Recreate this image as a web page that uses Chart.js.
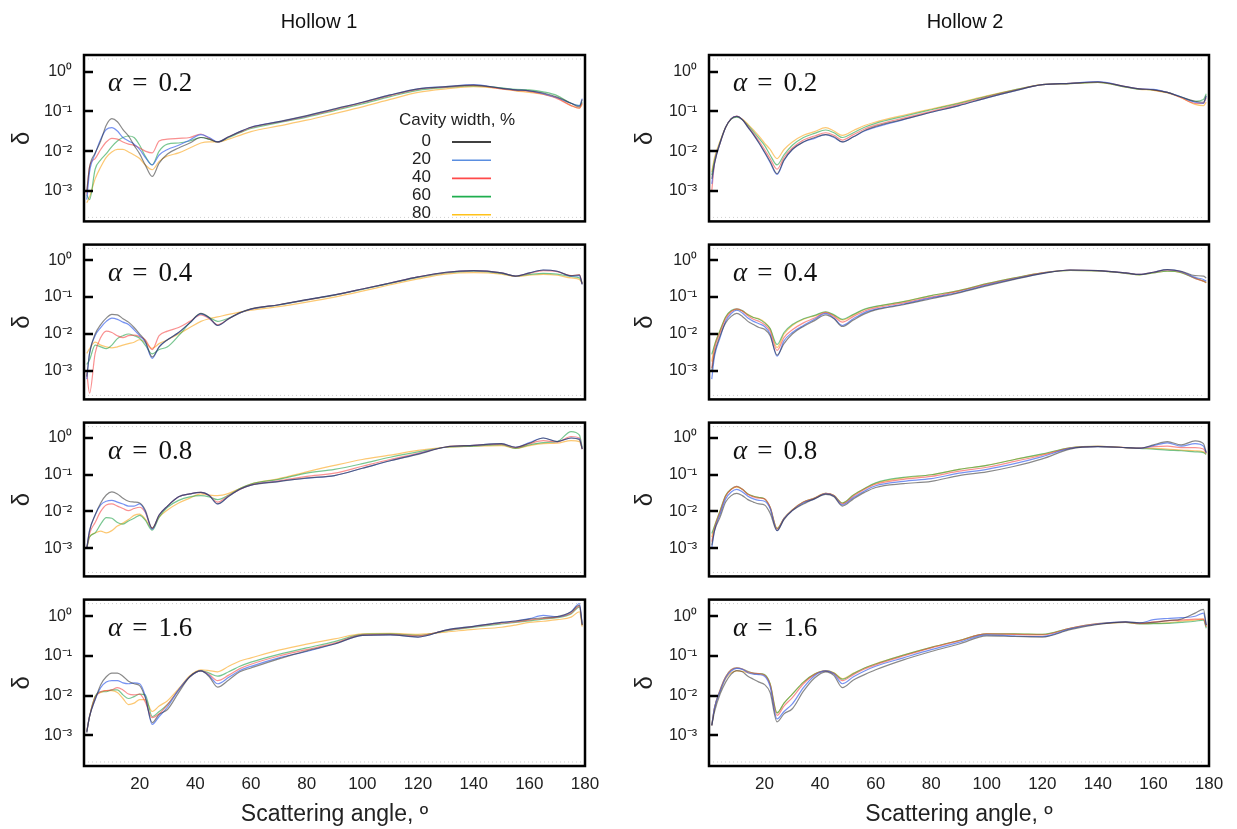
<!DOCTYPE html>
<html>
<head>
<meta charset="utf-8">
<script src="https://cdn.jsdelivr.net/npm/chart.js@4.4.0/dist/chart.umd.min.js"></script>
<style>
  body { margin: 0; background: #fff; }
  #wrap { position: relative; width: 1237px; height: 829px; overflow: hidden; }
  #wrap canvas { position: absolute; }
</style>
</head>
<body>
<div id="wrap"></div>
<script>
// scattering angle (deg) shared by every curve
const angle = [1, 2, 4, 6, 8, 10, 12, 14, 16, 18,
  20, 22, 24.5, 27, 30, 34, 38, 42, 45, 48,
  52, 56, 60, 70, 80, 90, 100, 110, 120, 130,
  140, 150, 155, 160, 165, 170, 175, 178, 179];

const widths = ['0', '20', '40', '60', '80'];
const alphas = ['0.2', '0.4', '0.8', '1.6'];
const yTicks = [1e-3, 1e-2, 1e-1, 1];
const xTicks = [20, 40, 60, 80, 100, 120, 140, 160, 180];

// Hollow 1, alpha = 0.2
const h1_02_w0 = [0.001, 0.004, 0.009, 0.018, 0.045, 0.066, 0.055, 0.035, 0.024, 0.014,
  0.0085, 0.0045, 0.0023, 0.005, 0.0085, 0.012, 0.016, 0.022, 0.02, 0.017,
  0.023, 0.031, 0.04, 0.055, 0.078, 0.116, 0.17, 0.26, 0.37, 0.42,
  0.46, 0.38, 0.35, 0.33, 0.29, 0.23, 0.16, 0.13, 0.2];
const h1_02_w20 = [0.0006, 0.003, 0.0085, 0.02, 0.035, 0.039, 0.032, 0.022, 0.018, 0.015,
  0.011, 0.007, 0.0045, 0.008, 0.011, 0.014, 0.019, 0.026, 0.022, 0.017,
  0.023, 0.031, 0.04, 0.055, 0.077, 0.115, 0.17, 0.26, 0.37, 0.42,
  0.47, 0.38, 0.35, 0.33, 0.28, 0.22, 0.16, 0.14, 0.21];
const h1_02_w40 = [0.0008, 0.004, 0.0065, 0.011, 0.017, 0.021, 0.02, 0.017, 0.015, 0.014,
  0.012, 0.01, 0.009, 0.018, 0.02, 0.021, 0.022, 0.027, 0.021, 0.017,
  0.023, 0.03, 0.039, 0.054, 0.075, 0.11, 0.165, 0.25, 0.36, 0.41,
  0.45, 0.37, 0.34, 0.32, 0.27, 0.21, 0.14, 0.12, 0.16];
const h1_02_w60 = [0.0008, 0.0006, 0.0035, 0.006, 0.0086, 0.013, 0.018, 0.022, 0.024, 0.022,
  0.014, 0.0075, 0.0045, 0.01, 0.015, 0.016, 0.018, 0.022, 0.02, 0.017,
  0.022, 0.029, 0.037, 0.052, 0.072, 0.105, 0.155, 0.235, 0.34, 0.4,
  0.44, 0.39, 0.36, 0.35, 0.31, 0.25, 0.16, 0.14, 0.17];
const h1_02_w80 = [0.0005, 0.0007, 0.002, 0.004, 0.007, 0.0095, 0.011, 0.011, 0.0095, 0.008,
  0.0065, 0.0045, 0.0034, 0.0055, 0.0075, 0.009, 0.012, 0.016, 0.017, 0.017,
  0.02, 0.025, 0.031, 0.043, 0.06, 0.088, 0.13, 0.2, 0.3, 0.37,
  0.42, 0.37, 0.33, 0.3, 0.27, 0.22, 0.14, 0.12, 0.15];

// Hollow 1, alpha = 0.4
const h1_04_w0 = [0.0007, 0.003, 0.01, 0.018, 0.027, 0.034, 0.033, 0.026, 0.021, 0.015,
  0.01, 0.0065, 0.0024, 0.0045, 0.007, 0.011, 0.02, 0.036, 0.028, 0.017,
  0.026, 0.038, 0.048, 0.062, 0.085, 0.115, 0.165, 0.24, 0.35, 0.47,
  0.52, 0.45, 0.37, 0.45, 0.54, 0.5, 0.38, 0.4, 0.22];
const h1_04_w20 = [0.0006, 0.003, 0.009, 0.015, 0.022, 0.027, 0.025, 0.021, 0.018, 0.013,
  0.009, 0.006, 0.0022, 0.0045, 0.007, 0.011, 0.02, 0.035, 0.027, 0.017,
  0.026, 0.037, 0.047, 0.062, 0.085, 0.115, 0.165, 0.24, 0.35, 0.47,
  0.52, 0.45, 0.37, 0.45, 0.54, 0.5, 0.37, 0.38, 0.22];
const h1_04_w40 = [0.0009, 0.00025, 0.003, 0.008, 0.012, 0.011, 0.009, 0.008, 0.009, 0.0093,
  0.0085, 0.007, 0.0038, 0.009, 0.012, 0.015, 0.022, 0.033, 0.026, 0.018,
  0.026, 0.037, 0.047, 0.062, 0.084, 0.114, 0.165, 0.24, 0.35, 0.46,
  0.52, 0.45, 0.37, 0.44, 0.52, 0.49, 0.38, 0.4, 0.23];
const h1_04_w60 = [0.0015, 0.002, 0.005, 0.0045, 0.004, 0.005, 0.0075, 0.009, 0.01, 0.009,
  0.0077, 0.005, 0.0029, 0.0038, 0.0045, 0.009, 0.02, 0.035, 0.028, 0.022,
  0.027, 0.037, 0.047, 0.061, 0.083, 0.113, 0.16, 0.235, 0.34, 0.45,
  0.5, 0.44, 0.37, 0.41, 0.44, 0.42, 0.36, 0.33, 0.24];
const h1_04_w80 = [0.003, 0.004, 0.006, 0.005, 0.0045, 0.0042, 0.0045, 0.005, 0.0055, 0.006,
  0.007, 0.006, 0.0041, 0.0055, 0.007, 0.01, 0.015, 0.022, 0.026, 0.029,
  0.034, 0.039, 0.044, 0.055, 0.073, 0.1, 0.145, 0.215, 0.31, 0.42,
  0.46, 0.42, 0.36, 0.39, 0.41, 0.39, 0.33, 0.3, 0.23];

// Hollow 1, alpha = 0.8
const h1_08_w0 = [0.001, 0.003, 0.008, 0.017, 0.028, 0.034, 0.03, 0.023, 0.019, 0.018,
  0.017, 0.011, 0.0035, 0.008, 0.014, 0.025, 0.03, 0.033, 0.027, 0.016,
  0.026, 0.04, 0.052, 0.065, 0.082, 0.095, 0.15, 0.24, 0.36, 0.57,
  0.63, 0.7, 0.56, 0.72, 1.0, 0.8, 1.0, 0.9, 0.5];
const h1_08_w20 = [0.001, 0.003, 0.008, 0.015, 0.019, 0.02, 0.018, 0.016, 0.014, 0.014,
  0.016, 0.01, 0.0033, 0.008, 0.014, 0.025, 0.03, 0.033, 0.027, 0.016,
  0.026, 0.04, 0.052, 0.066, 0.08, 0.095, 0.15, 0.24, 0.37, 0.57,
  0.63, 0.7, 0.56, 0.75, 1.0, 0.8, 1.0, 0.95, 0.5];
const h1_08_w40 = [0.001, 0.0025, 0.005, 0.01, 0.015, 0.016, 0.014, 0.012, 0.0105, 0.012,
  0.013, 0.0095, 0.0034, 0.008, 0.014, 0.025, 0.03, 0.033, 0.027, 0.018,
  0.027, 0.04, 0.053, 0.068, 0.09, 0.11, 0.17, 0.26, 0.38, 0.57,
  0.63, 0.68, 0.55, 0.7, 0.85, 0.78, 1.1, 1.0, 0.5];
const h1_08_w60 = [0.001, 0.002, 0.0026, 0.0045, 0.0068, 0.0065, 0.005, 0.0045, 0.0055, 0.0065,
  0.0078, 0.0058, 0.0031, 0.007, 0.013, 0.02, 0.025, 0.027, 0.025, 0.021,
  0.028, 0.042, 0.056, 0.075, 0.11, 0.14, 0.2, 0.3, 0.42, 0.56,
  0.6, 0.66, 0.52, 0.65, 0.75, 0.8, 1.5, 1.2, 0.55];
const h1_08_w80 = [0.001, 0.002, 0.0026, 0.0029, 0.0026, 0.003, 0.004, 0.0048, 0.006, 0.0078,
  0.0085, 0.0062, 0.0035, 0.007, 0.011, 0.017, 0.023, 0.03, 0.028, 0.027,
  0.031, 0.042, 0.056, 0.078, 0.12, 0.18, 0.26, 0.34, 0.46, 0.56,
  0.6, 0.62, 0.52, 0.62, 0.7, 0.72, 0.85, 0.8, 0.5];

// Hollow 1, alpha = 1.6
const h1_16_w0 = [0.0012, 0.003, 0.008, 0.019, 0.03, 0.037, 0.037, 0.031, 0.023, 0.02,
  0.018, 0.009, 0.0021, 0.0034, 0.0045, 0.012, 0.03, 0.042, 0.03, 0.0165,
  0.025, 0.04, 0.05, 0.085, 0.135, 0.2, 0.33, 0.34, 0.3, 0.45,
  0.56, 0.7, 0.76, 0.85, 0.92, 0.98, 1.3, 1.9, 0.6];
const h1_16_w20 = [0.0012, 0.003, 0.008, 0.016, 0.022, 0.024, 0.024, 0.021, 0.02, 0.021,
  0.02, 0.01, 0.0019, 0.003, 0.0052, 0.014, 0.03, 0.042, 0.032, 0.02,
  0.029, 0.043, 0.055, 0.09, 0.13, 0.2, 0.33, 0.34, 0.3, 0.45,
  0.56, 0.7, 0.76, 0.87, 1.05, 0.98, 1.3, 2.1, 0.65];
const h1_16_w40 = [0.0013, 0.003, 0.009, 0.0126, 0.0135, 0.014, 0.016, 0.014, 0.011, 0.0105,
  0.011, 0.007, 0.0028, 0.0035, 0.006, 0.014, 0.03, 0.042, 0.034, 0.024,
  0.033, 0.048, 0.062, 0.1, 0.145, 0.21, 0.34, 0.35, 0.32, 0.44,
  0.55, 0.67, 0.72, 0.8, 0.88, 0.95, 1.2, 1.8, 0.6];
const h1_16_w60 = [0.0013, 0.003, 0.0095, 0.0126, 0.0126, 0.014, 0.014, 0.0105, 0.0085, 0.0095,
  0.011, 0.0105, 0.003, 0.004, 0.006, 0.014, 0.03, 0.043, 0.037, 0.031,
  0.04, 0.055, 0.07, 0.11, 0.16, 0.23, 0.35, 0.36, 0.33, 0.43,
  0.53, 0.64, 0.7, 0.77, 0.85, 0.92, 1.15, 1.7, 0.6];
const h1_16_w80 = [0.0012, 0.003, 0.0095, 0.012, 0.0135, 0.0135, 0.012, 0.0085, 0.006, 0.0065,
  0.008, 0.008, 0.004, 0.0055, 0.0075, 0.015, 0.032, 0.045, 0.043, 0.04,
  0.055, 0.075, 0.09, 0.14, 0.2, 0.27, 0.36, 0.37, 0.35, 0.4,
  0.47, 0.53, 0.6, 0.7, 0.75, 0.82, 0.95, 1.3, 0.55];

// Hollow 2, alpha = 0.2
const h2_02_w0 = [0.002, 0.005, 0.016, 0.04, 0.065, 0.075, 0.062, 0.04, 0.026, 0.016,
  0.0095, 0.0055, 0.0027, 0.006, 0.011, 0.017, 0.022, 0.026, 0.023, 0.017,
  0.023, 0.033, 0.042, 0.063, 0.095, 0.14, 0.22, 0.33, 0.47, 0.51,
  0.55, 0.42, 0.37, 0.35, 0.3, 0.23, 0.18, 0.17, 0.25];
const h2_02_w20 = [0.0015, 0.005, 0.016, 0.04, 0.066, 0.075, 0.062, 0.04, 0.026, 0.016,
  0.0092, 0.0052, 0.0026, 0.0058, 0.011, 0.017, 0.021, 0.026, 0.022, 0.017,
  0.023, 0.032, 0.04, 0.062, 0.095, 0.14, 0.22, 0.33, 0.47, 0.51,
  0.56, 0.42, 0.37, 0.36, 0.3, 0.23, 0.17, 0.16, 0.24];
const h2_02_w40 = [0.001, 0.005, 0.016, 0.04, 0.066, 0.076, 0.062, 0.042, 0.028, 0.018,
  0.011, 0.0065, 0.0035, 0.007, 0.012, 0.019, 0.024, 0.029, 0.025, 0.019,
  0.026, 0.036, 0.045, 0.068, 0.1, 0.15, 0.23, 0.34, 0.47, 0.51,
  0.55, 0.42, 0.37, 0.35, 0.3, 0.22, 0.16, 0.16, 0.22];
const h2_02_w60 = [0.0025, 0.006, 0.017, 0.04, 0.064, 0.072, 0.062, 0.045, 0.031, 0.021,
  0.014, 0.008, 0.0045, 0.008, 0.014, 0.022, 0.028, 0.034, 0.029, 0.022,
  0.029, 0.04, 0.05, 0.075, 0.11, 0.16, 0.24, 0.35, 0.47, 0.5,
  0.54, 0.41, 0.36, 0.35, 0.3, 0.23, 0.18, 0.2, 0.28];
const h2_02_w80 = [0.003, 0.007, 0.018, 0.04, 0.065, 0.074, 0.064, 0.048, 0.034, 0.024,
  0.016, 0.011, 0.0065, 0.011, 0.017, 0.025, 0.031, 0.039, 0.032, 0.025,
  0.033, 0.044, 0.054, 0.08, 0.115, 0.165, 0.245, 0.35, 0.47, 0.5,
  0.54, 0.41, 0.36, 0.34, 0.29, 0.22, 0.15, 0.14, 0.17];

// Hollow 2, alpha = 0.4
const h2_04_w0 = [0.001, 0.003, 0.009, 0.02, 0.03, 0.036, 0.03, 0.022, 0.018, 0.015,
  0.0135, 0.009, 0.0027, 0.0055, 0.01, 0.016, 0.023, 0.033, 0.026, 0.016,
  0.024, 0.035, 0.045, 0.062, 0.09, 0.13, 0.2, 0.3, 0.43, 0.54,
  0.52, 0.45, 0.41, 0.47, 0.55, 0.5, 0.38, 0.37, 0.33];
const h2_04_w20 = [0.0006, 0.0025, 0.008, 0.022, 0.036, 0.044, 0.037, 0.027, 0.022, 0.019,
  0.016, 0.01, 0.0025, 0.0065, 0.011, 0.017, 0.025, 0.036, 0.027, 0.017,
  0.026, 0.038, 0.047, 0.065, 0.095, 0.135, 0.21, 0.31, 0.44, 0.54,
  0.52, 0.45, 0.41, 0.47, 0.55, 0.49, 0.34, 0.3, 0.27];
const h2_04_w40 = [0.0012, 0.004, 0.011, 0.026, 0.04, 0.048, 0.042, 0.031, 0.025, 0.022,
  0.018, 0.012, 0.0036, 0.008, 0.013, 0.02, 0.027, 0.038, 0.03, 0.021,
  0.03, 0.042, 0.051, 0.07, 0.1, 0.145, 0.22, 0.32, 0.45, 0.54,
  0.52, 0.45, 0.41, 0.47, 0.54, 0.48, 0.32, 0.27, 0.25];
const h2_04_w60 = [0.0028, 0.005, 0.0126, 0.029, 0.043, 0.048, 0.043, 0.033, 0.028, 0.025,
  0.02, 0.014, 0.0052, 0.011, 0.018, 0.026, 0.032, 0.04, 0.033, 0.025,
  0.034, 0.047, 0.056, 0.075, 0.11, 0.15, 0.23, 0.33, 0.45, 0.53,
  0.51, 0.44, 0.4, 0.45, 0.5, 0.46, 0.32, 0.27, 0.25];
const h2_04_w80 = [0.0018, 0.005, 0.0126, 0.029, 0.042, 0.046, 0.042, 0.034, 0.028, 0.026,
  0.021, 0.014, 0.0043, 0.01, 0.017, 0.025, 0.031, 0.039, 0.032, 0.024,
  0.033, 0.046, 0.055, 0.075, 0.11, 0.15, 0.23, 0.33, 0.45, 0.53,
  0.51, 0.44, 0.4, 0.45, 0.5, 0.46, 0.33, 0.27, 0.24];

// Hollow 2, alpha = 0.8
const h2_08_w0 = [0.0012, 0.003, 0.007, 0.018, 0.027, 0.031, 0.027, 0.021, 0.018, 0.016,
  0.015, 0.009, 0.003, 0.006, 0.0105, 0.016, 0.022, 0.029, 0.025, 0.014,
  0.022, 0.033, 0.045, 0.057, 0.066, 0.095, 0.12, 0.17, 0.27, 0.5,
  0.58, 0.55, 0.53, 0.65, 0.8, 0.65, 0.84, 0.7, 0.4];
const h2_08_w20 = [0.001, 0.003, 0.0085, 0.022, 0.034, 0.04, 0.034, 0.026, 0.022, 0.02,
  0.019, 0.012, 0.003, 0.0063, 0.0105, 0.017, 0.022, 0.03, 0.026, 0.015,
  0.024, 0.036, 0.05, 0.066, 0.078, 0.11, 0.14, 0.2, 0.31, 0.52,
  0.58, 0.55, 0.53, 0.62, 0.74, 0.6, 0.7, 0.6, 0.4];
const h2_08_w40 = [0.0015, 0.0035, 0.0095, 0.026, 0.04, 0.048, 0.04, 0.029, 0.025, 0.023,
  0.022, 0.013, 0.0033, 0.0065, 0.011, 0.018, 0.023, 0.031, 0.027, 0.016,
  0.026, 0.04, 0.055, 0.075, 0.09, 0.125, 0.16, 0.23, 0.34, 0.53,
  0.59, 0.55, 0.53, 0.58, 0.6, 0.55, 0.55, 0.5, 0.38];
const h2_08_w60 = [0.0025, 0.004, 0.0105, 0.027, 0.041, 0.048, 0.04, 0.03, 0.026, 0.024,
  0.022, 0.013, 0.0034, 0.0065, 0.011, 0.018, 0.023, 0.031, 0.027, 0.017,
  0.028, 0.042, 0.06, 0.085, 0.1, 0.14, 0.18, 0.26, 0.37, 0.54,
  0.59, 0.55, 0.52, 0.5, 0.47, 0.45, 0.42, 0.4, 0.36];
const h2_08_w80 = [0.002, 0.004, 0.0105, 0.027, 0.04, 0.046, 0.04, 0.03, 0.026, 0.024,
  0.022, 0.013, 0.0035, 0.0065, 0.011, 0.018, 0.023, 0.031, 0.027, 0.017,
  0.028, 0.042, 0.058, 0.082, 0.1, 0.14, 0.18, 0.26, 0.36, 0.54,
  0.59, 0.55, 0.52, 0.52, 0.5, 0.47, 0.45, 0.42, 0.36];

// Hollow 2, alpha = 1.6
const h2_16_w0 = [0.0018, 0.004, 0.011, 0.022, 0.035, 0.043, 0.04, 0.031, 0.026, 0.022,
  0.019, 0.012, 0.0022, 0.0035, 0.0047, 0.013, 0.028, 0.04, 0.032, 0.016,
  0.025, 0.034, 0.045, 0.08, 0.13, 0.2, 0.32, 0.31, 0.3, 0.46,
  0.62, 0.72, 0.68, 0.7, 0.78, 0.85, 1.2, 1.5, 0.6];
const h2_16_w20 = [0.0018, 0.005, 0.013, 0.028, 0.042, 0.049, 0.046, 0.038, 0.035, 0.034,
  0.031, 0.017, 0.0026, 0.004, 0.0062, 0.016, 0.032, 0.042, 0.035, 0.02,
  0.03, 0.042, 0.055, 0.09, 0.145, 0.22, 0.34, 0.32, 0.31, 0.48,
  0.64, 0.72, 0.68, 0.82, 0.88, 0.92, 1.0, 1.2, 0.6];
const h2_16_w40 = [0.0018, 0.005, 0.014, 0.03, 0.045, 0.05, 0.047, 0.04, 0.037, 0.036,
  0.033, 0.019, 0.0032, 0.0055, 0.009, 0.02, 0.034, 0.042, 0.036, 0.024,
  0.034, 0.047, 0.06, 0.1, 0.16, 0.24, 0.36, 0.35, 0.34, 0.5,
  0.65, 0.71, 0.66, 0.72, 0.77, 0.8, 0.85, 0.85, 0.55];
const h2_16_w60 = [0.0018, 0.005, 0.014, 0.03, 0.045, 0.05, 0.047, 0.041, 0.037, 0.036,
  0.034, 0.02, 0.0037, 0.0065, 0.011, 0.022, 0.035, 0.042, 0.037, 0.026,
  0.036, 0.05, 0.063, 0.105, 0.165, 0.245, 0.36, 0.36, 0.35, 0.5,
  0.65, 0.7, 0.64, 0.65, 0.66, 0.7, 0.75, 0.8, 0.5];
const h2_16_w80 = [0.0018, 0.005, 0.013, 0.027, 0.038, 0.042, 0.041, 0.038, 0.036, 0.035,
  0.033, 0.02, 0.0037, 0.0065, 0.011, 0.022, 0.035, 0.043, 0.038, 0.027,
  0.037, 0.05, 0.064, 0.105, 0.165, 0.245, 0.36, 0.36, 0.35, 0.5,
  0.64, 0.7, 0.65, 0.66, 0.68, 0.75, 0.8, 0.85, 0.55];

const hollow1 = [
  [h1_02_w0, h1_02_w20, h1_02_w40, h1_02_w60, h1_02_w80],
  [h1_04_w0, h1_04_w20, h1_04_w40, h1_04_w60, h1_04_w80],
  [h1_08_w0, h1_08_w20, h1_08_w40, h1_08_w60, h1_08_w80],
  [h1_16_w0, h1_16_w20, h1_16_w40, h1_16_w60, h1_16_w80]
];
const hollow2 = [
  [h2_02_w0, h2_02_w20, h2_02_w40, h2_02_w60, h2_02_w80],
  [h2_04_w0, h2_04_w20, h2_04_w40, h2_04_w60, h2_04_w80],
  [h2_08_w0, h2_08_w20, h2_08_w40, h2_08_w60, h2_08_w80],
  [h2_16_w0, h2_16_w20, h2_16_w40, h2_16_w60, h2_16_w80]
];

const lineColors = ['rgba(40,40,40,0.55)', 'rgba(60,100,235,0.7)', 'rgba(245,70,70,0.6)',
  'rgba(30,160,70,0.6)', 'rgba(250,170,40,0.65)'];
const keyColors = ['#000000', '#5a8ee0', '#ff4a4a', '#1fae4f', '#ffc21a'];

const sup = { '0': '\u2070', '1': '\u00b9', '2': '\u00b2', '3': '\u00b3', '-': '\u207b' };
function powerLabel(v) {
  const e = Math.round(Math.log10(v));
  return '10' + String(e).split('').map(c => sup[c]).join('');
}

// box, inward ticks, alpha text, column title and the width key
const frame = {
  id: 'frame',
  afterDatasetsDraw(chart, args, o) {
    const { ctx, chartArea: a } = chart;
    const y = chart.scales.y;
    ctx.save();

    ctx.strokeStyle = '#cfcfcf';
    ctx.lineWidth = 1;
    ctx.setLineDash([1, 3]);
    ctx.beginPath();
    ctx.moveTo(a.left + 4, a.top + 4); ctx.lineTo(a.right - 4, a.top + 4);
    ctx.moveTo(a.left + 4, a.bottom - 4); ctx.lineTo(a.right - 4, a.bottom - 4);
    ctx.stroke();
    ctx.setLineDash([]);

    ctx.strokeStyle = '#000';
    ctx.lineWidth = 2.5;
    ctx.beginPath();
    yTicks.forEach(v => {
      const py = Math.round(y.getPixelForValue(v));
      ctx.moveTo(a.left, py);
      ctx.lineTo(a.left + 9, py);
    });
    ctx.stroke();
    ctx.strokeRect(a.left, a.top, a.right - a.left, a.bottom - a.top);

    // alpha = ...
    ctx.fillStyle = '#111';
    ctx.textBaseline = 'middle';
    ctx.textAlign = 'left';
    const ty = a.top + 29;
    let tx = a.left + 24;
    ctx.font = 'italic 27px "Liberation Serif"';
    ctx.fillText('\u03b1', tx, ty);
    tx += ctx.measureText('\u03b1').width + 10;
    ctx.font = '27px "Liberation Serif"';
    ctx.fillText('=', tx, ty);
    tx += ctx.measureText('=').width + 11;
    ctx.fillText(o.alpha, tx, ty);

    if (o.title) {
      ctx.font = '20px "Liberation Sans"';
      ctx.fillStyle = '#111';
      ctx.textAlign = 'center';
      ctx.fillText(o.title, o.titleX, 22);
    }

    if (o.key) {
      ctx.font = '17px "Liberation Sans"';
      ctx.fillStyle = '#222';
      ctx.textAlign = 'left';
      ctx.fillText('Cavity width, %', a.left + 315, a.top + 65);
      chart.data.datasets.forEach((ds, i) => {
        const ly = a.top + 86 + i * 18.2;
        ctx.textAlign = 'right';
        ctx.fillStyle = '#222';
        ctx.fillText(ds.label, a.left + 347, ly);
        ctx.strokeStyle = keyColors[i];
        ctx.lineWidth = 1.6;
        ctx.beginPath();
        ctx.moveTo(a.left + 368, ly + 1);
        ctx.lineTo(a.left + 407, ly + 1);
        ctx.stroke();
      });
    }
    ctx.restore();
  }
};

const cols = [
  { left: 0, width: 600, yWidth: 84, padRight: 15, deltaPad: 8, title: 'Hollow 1', titleX: 319, data: hollow1 },
  { left: 620, width: 617, yWidth: 89, padRight: 28, deltaPad: 11, title: 'Hollow 2', titleX: 345, data: hollow2 }
];
const rows = [
  { top: 0, height: 243, padTop: 55, padBottom: 10 },
  { top: 223, height: 198, padTop: 10, padBottom: 10 },
  { top: 401, height: 197, padTop: 10, padBottom: 10 },
  { top: 578, height: 251, padTop: 10, padBottom: 0 }
];

const wrap = document.getElementById('wrap');
const sans = 'Liberation Sans';

cols.forEach((col, c) => {
  rows.forEach((row, r) => {
    const cv = document.createElement('canvas');
    cv.width = col.width;
    cv.height = row.height;
    cv.style.left = col.left + 'px';
    cv.style.top = row.top + 'px';
    wrap.appendChild(cv);
    const last = r === rows.length - 1;

    const datasets = col.data[r].map((vals, i) => ({
      label: widths[i],
      data: angle.map((a, k) => ({ x: a, y: vals[k] })),
      borderColor: lineColors[i],
      borderWidth: 1.2,
      pointRadius: 0,
      fill: false,
      cubicInterpolationMode: 'monotone'
    }));

    const xScale = {
      type: 'linear', min: 0, max: 180, display: last,
      grid: { display: false, drawTicks: false },
      border: { display: false },
      afterBuildTicks: s => { s.ticks = xTicks.map(v => ({ value: v })); },
      ticks: { padding: 8, color: '#222', maxRotation: 0, autoSkip: false, font: { family: sans, size: 17 } },
      title: { display: true, text: 'Scattering angle, \u00ba', color: '#222',
        font: { family: sans, size: 23 }, padding: { top: 0, bottom: 1 } }
    };
    if (last) {
      xScale.afterFit = s => {
        s.height = 63;
        s.paddingLeft = 0;
        s.paddingRight = 0;
      };
    }

    new Chart(cv.getContext('2d'), {
      type: 'line',
      data: { datasets },
      options: {
        responsive: false,
        animation: false,
        devicePixelRatio: 1,
        layout: { padding: { top: row.padTop, bottom: row.padBottom, left: 0, right: col.padRight } },
        plugins: {
          legend: { display: false },
          tooltip: { enabled: false },
          frame: { alpha: alphas[r], key: c === 0 && r === 0,
            title: r === 0 ? col.title : null, titleX: col.titleX }
        },
        scales: {
          x: xScale,
          y: {
            type: 'logarithmic', min: 1.7e-4, max: 2.63, bounds: 'data',
            grid: { display: false, drawTicks: false },
            border: { display: false },
            afterBuildTicks: s => { s.ticks = yTicks.map(v => ({ value: v })); },
            afterFit: s => { s.width = col.yWidth; },
            ticks: { padding: 12, color: '#222', font: { family: sans, size: 16 },
              callback: v => powerLabel(v) },
            title: { display: true, text: '\u03b4', color: '#222',
              font: { family: sans, size: 24 }, padding: { top: col.deltaPad, bottom: 0 } }
          }
        }
      },
      plugins: [frame]
    });
  });
});
</script>
</body>
</html>
